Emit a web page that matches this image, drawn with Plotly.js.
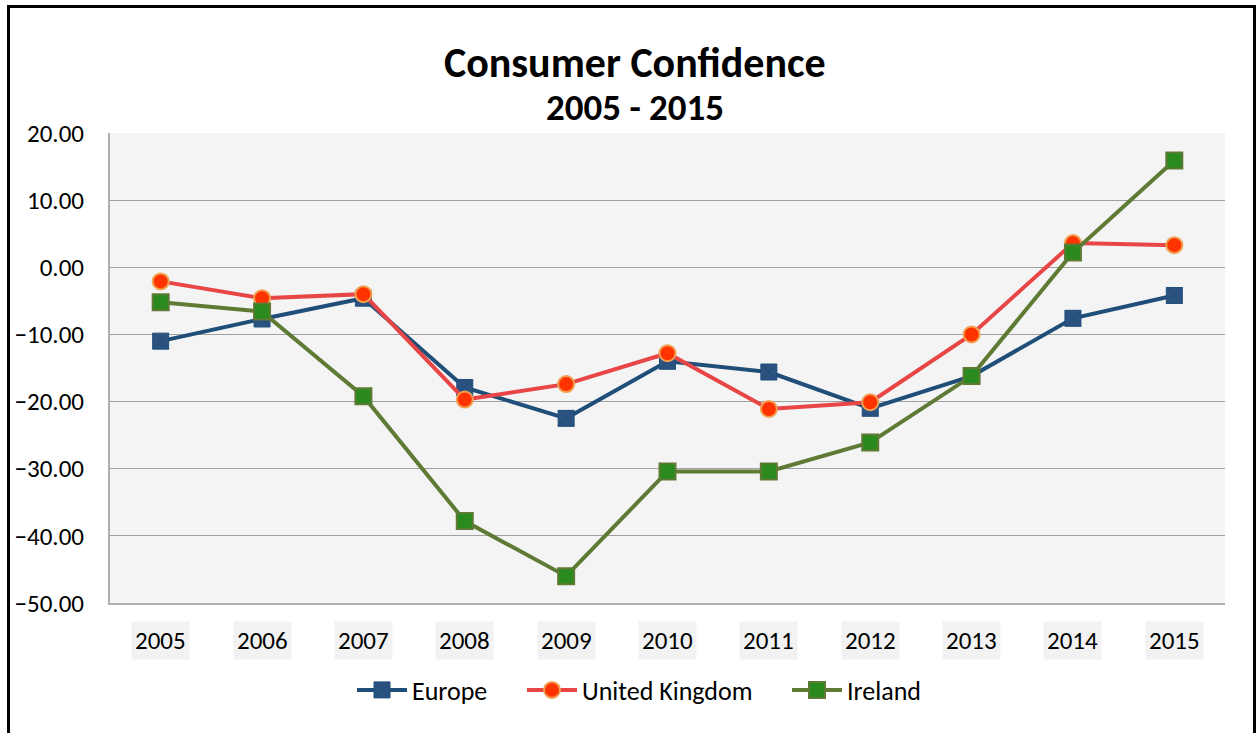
<!DOCTYPE html>
<html>
<head>
<meta charset="utf-8">
<script src="https://cdn.plot.ly/plotly-3.0.1.min.js"></script>
<style>
  html, body { margin: 0; padding: 0; background: #fff; overflow: hidden; }
  #chart { position: absolute; left: 0; top: 0; width: 1256px; height: 733px; }
  #frame { position: absolute; left: 7px; top: 5px; width: 1243px; height: 760px; border: 3px solid #000; pointer-events: none; }
</style>
</head>
<body>
<div id="chart"></div>
<div id="frame"></div>
<script>
const years = ['2005','2006','2007','2008','2009','2010','2011','2012','2013','2014','2015'];
const europe = [-11.0, -7.7, -4.6, -17.9, -22.5, -14.0, -15.6, -21.0, -16.2, -7.6, -4.2];
const unitedKingdom = [-2.1, -4.6, -4.0, -19.7, -17.4, -12.8, -21.1, -20.1, -10.0, 3.6, 3.3];
const ireland = [-5.2, -6.6, -19.2, -37.8, -46.0, -30.4, -30.4, -26.1, -16.2, 2.2, 15.9];
const yTicks = [-50, -40, -30, -20, -10, 0, 10, 20];

const FONT = 'Calibri, Carlito, Lato, "Open Sans", sans-serif';

const traces = [
  {
    x: years, y: europe, name: 'Europe', type: 'scatter', mode: 'lines+markers', legend: 'legend',
    line: { color: '#1f4e79', width: 4 },
    marker: { symbol: 'square-x', size: 16, color: '#2c5282', line: { color: '#1f4e79', width: 1 } }
  },
  {
    x: years, y: unitedKingdom, name: 'United Kingdom', type: 'scatter', mode: 'lines+markers', legend: 'legend2',
    line: { color: '#e84646', width: 4 },
    marker: { symbol: 'circle', size: 16, color: '#ff3300', line: { color: '#f0a050', width: 2 } }
  },
  {
    x: years, y: ireland, name: 'Ireland', type: 'scatter', mode: 'lines+markers', legend: 'legend3',
    line: { color: '#5f7a35', width: 4 },
    marker: { symbol: 'square', size: 16, color: '#2a8a1e', line: { color: '#5f7a35', width: 2 } }
  }
];

const annotations = [
  { text: '<b>Consumer Confidence</b>', xref: 'paper', yref: 'paper', x: 0.471, y: (603 - 62) / 470,
    xanchor: 'center', yanchor: 'middle', showarrow: false, font: { family: FONT, size: 42, color: '#000' } },
  { text: '<b>2005 - 2015</b>', xref: 'paper', yref: 'paper', x: 0.471, y: (603 - 107) / 470,
    xanchor: 'center', yanchor: 'middle', showarrow: false, font: { family: FONT, size: 37, color: '#000' } }
];
years.forEach(function (yr, i) {
  annotations.push({ text: yr, xref: 'x', yref: 'paper', x: i, y: (603 - 640) / 470,
    xanchor: 'center', yanchor: 'middle', showarrow: false, bgcolor: '#f2f2f2', borderpad: 3,
    font: { family: FONT, size: 25, color: '#000' } });
});

function legendAt(px) {
  return {
    orientation: 'h', x: (px - 110) / 1115, xanchor: 'left', y: (603 - 690) / 470, yanchor: 'middle',
    font: { family: FONT, size: 26, color: '#000' }, itemwidth: 50, bgcolor: 'rgba(0,0,0,0)'
  };
}

const layout = {
  width: 1256, height: 733,
  margin: { l: 110, r: 31, t: 133, b: 130, pad: 0 },
  paper_bgcolor: '#ffffff',
  plot_bgcolor: '#f4f4f4',
  font: { family: FONT, color: '#000' },
  showlegend: true,
  legend: legendAt(352),
  legend2: legendAt(522),
  legend3: legendAt(787),
  xaxis: {
    type: 'category', range: [-0.5, 10.5], showticklabels: false,
    showgrid: false, zeroline: false, showline: true, linecolor: '#b0b0b0', linewidth: 2,
    ticks: '', fixedrange: true
  },
  yaxis: {
    range: [-50, 20], tickvals: yTicks, tickformat: '.2f',
    showgrid: true, gridcolor: '#a0a0a0', gridwidth: 1,
    zeroline: false, showline: true, linecolor: '#b0b0b0', linewidth: 2,
    ticks: '', ticklabelstandoff: 19,
    tickfont: { family: FONT, size: 25, color: '#000' }, fixedrange: true
  },
  annotations: annotations
};

Plotly.newPlot('chart', traces, layout, { displayModeBar: false, staticPlot: true });
</script>
</body>
</html>
